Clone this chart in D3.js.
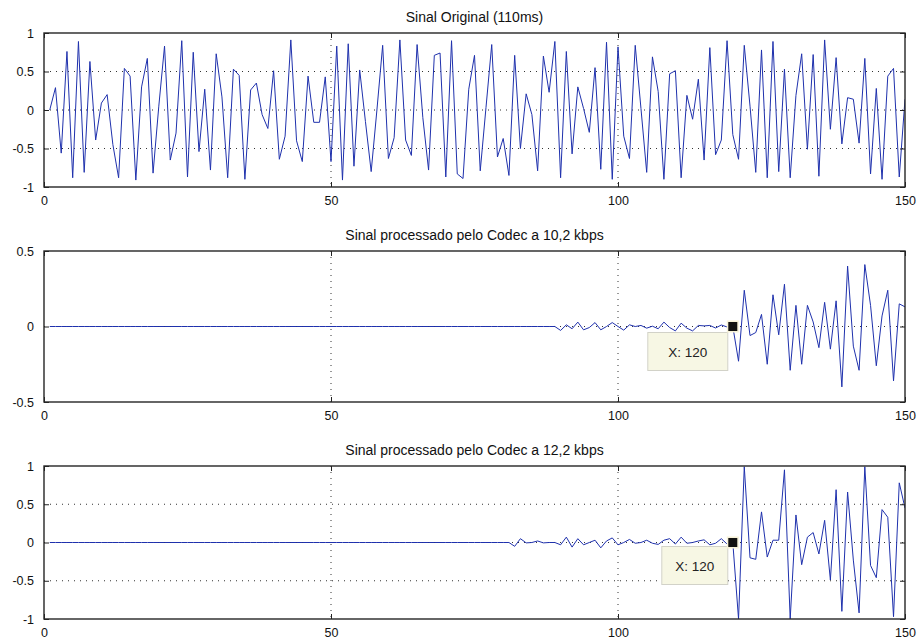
<!DOCTYPE html>
<html>
<head>
<meta charset="utf-8">
<script src="https://cdn.jsdelivr.net/npm/d3@7/dist/d3.min.js"></script>
<style>
  html, body { margin: 0; padding: 0; background: #ffffff; }
  svg { display: block; font-family: "Liberation Sans", Arial, Helvetica, sans-serif; }
</style>
</head>
<body>
<svg id="chart" width="919" height="641"></svg>
<script>
// Sample index (1..150) shared by all three signals
const sampleCount = 150;

// Original speech frame (110 ms)
const originalSignal = [
  0, 0.29, -0.56, 0.76, -0.88, 0.89, -0.81, 0.63, -0.39, 0.09,
  0.20, -0.45, -0.88, 0.54, 0.44, -0.91, 0.30, 0.67, -0.82, 0.05,
  0.83, -0.65, -0.30, 0.90, -0.87, 0.75, -0.54, 0.27, -0.78, 0.73,
  0.17, -0.88, 0.53, 0.45, -0.90, 0.26, 0.35, -0.06, -0.24, 0.51,
  -0.64, -0.34, 0.91, -0.40, -0.67, 0.44, -0.16, -0.16, 0.43, -0.67,
  0.83, -0.91, 0.86, -0.73, 0.52, -0.15, -0.80, 0.00, 0.84, -0.63,
  -0.36, 0.91, -0.39, -0.59, 0.85, -0.10, -0.78, 0.71, 0.74, -0.87,
  0.90, -0.83, -0.89, 0.27, 0.71, -0.79, 0.03, 0.85, -0.61, -0.37,
  -0.85, 0.71, -0.50, 0.21, -0.06, -0.79, 0.70, 0.23, 0.89, -0.88,
  0.76, -0.57, 0.30, 0.02, -0.29, 0.55, -0.77, 0.88, -0.90, 0.82,
  -0.34, -0.63, 0.84, 0.02, -0.81, 0.69, 0.24, -0.90, 0.47, 0.51,
  -0.88, 0.19, -0.12, 0.40, -0.65, 0.81, -0.58, -0.39, 0.90, -0.32,
  -0.64, 0.84, 0.05, -0.81, 0.78, -0.88, 0.89, -0.80, 0.53, -0.88,
  0.19, 0.73, -0.51, 0.72, -0.86, 0.91, -0.25, 0.68, -0.44, 0.16,
  0.14, -0.43, 0.67, -0.83, 0.28, -0.90, 0.44, 0.54, -0.87, 0.14
];

// Output of the codec at 10.2 kbps
const codec102Signal = [
  0, 0, 0, 0, 0, 0, 0, 0, 0, 0,
  0, 0, 0, 0, 0, 0, 0, 0, 0, 0,
  0, 0, 0, 0, 0, 0, 0, 0, 0, 0,
  0, 0, 0, 0, 0, 0, 0, 0, 0, 0,
  0, 0, 0, 0, 0, 0, 0, 0, 0, 0,
  0, 0, 0, 0, 0, 0, 0, 0, 0, 0,
  0, 0, 0, 0, 0, 0, 0, 0, 0, 0,
  0, 0, 0, 0, 0, 0, 0, 0, 0, 0,
  0, 0, 0, 0, 0, 0, 0, 0, 0, -0.026,
  0.011, -0.015, 0.029, -0.022, -0.007, 0.026, -0.022, 0.000, 0.026, 0.000,
  -0.024, 0.011, 0.000, 0.007, -0.011, 0.002, -0.015, 0.029, -0.007, -0.029,
  0.022, -0.011, -0.029, 0.007, 0.004, 0.007, -0.010, 0.010, -0.003, 0.000,
  -0.23, 0.24, -0.06, -0.04, 0.08, -0.25, 0.21, -0.055, 0.28, -0.29,
  0.14, -0.25, 0.14, 0.03, -0.14, 0.16, -0.15, 0.17, -0.40, 0.40,
  -0.13, -0.29, 0.41, 0.14, -0.26, 0.07, 0.24, -0.36, 0.15, 0.13
];

// Output of the codec at 12.2 kbps
const codec122Signal = [
  0, 0, 0, 0, 0, 0, 0, 0, 0, 0,
  0, 0, 0, 0, 0, 0, 0, 0, 0, 0,
  0, 0, 0, 0, 0, 0, 0, 0, 0, 0,
  0, 0, 0, 0, 0, 0, 0, 0, 0, 0,
  0, 0, 0, 0, 0, 0, 0, 0, 0, 0,
  0, 0, 0, 0, 0, 0, 0, 0, 0, 0,
  0, 0, 0, 0, 0, 0, 0, 0, 0, 0,
  0, 0, 0, 0, 0, 0, 0, 0, 0, 0,
  0, -0.05, 0.05, -0.005, 0.00, 0.02, -0.005, 0.00, 0.00, -0.03,
  0.07, -0.06, 0.05, -0.03, 0.00, 0.03, -0.07, 0.02, 0.06, -0.03,
  0.00, 0.04, -0.01, 0.00, 0.03, -0.01, -0.025, 0.03, 0.05, -0.02,
  0.07, -0.01, 0.00, 0.02, 0.035, -0.03, -0.01, 0.05, -0.02, 0.00,
  -1.00, 0.99, -0.20, -0.22, 0.40, -0.19, 0.03, 0.03, 0.95, -1.00,
  0.36, -0.29, 0.07, 0.13, -0.15, 0.29, -0.49, 0.69, -0.90, 0.66,
  -0.23, -0.92, 0.99, -0.30, -0.46, 0.43, 0.33, -0.97, 0.78, 0.45
];

// Axis tick values
const xTicks = [0, 50, 100, 150];
const yTicksFull = [-1, -0.5, 0, 0.5, 1];
const yTicksHalf = [-0.5, 0, 0.5];
const yTickLabelsFull = ["-1", "-0.5", "0", "0.5", "1"];
const yTickLabelsHalf = ["-0.5", "0", "0.5"];

// Panel titles
const titles = [
  "Sinal Original (110ms)",
  "Sinal processado pelo Codec a 10,2 kbps",
  "Sinal processado pelo Codec a 12,2 kbps"
];

// Data cursor pinned on sample 120 of the codec outputs
const cursorIndex = 120;
const cursorLabel = "X: 120";

const svg = d3.select("#chart");
const left = 44, right = 905;

const panels = [
  { title: titles[0], data: originalSignal, top: 33, bottom: 187, domain: [-1, 1], yTicks: yTicksFull, yLabels: yTickLabelsFull, cursor: null },
  { title: titles[1], data: codec102Signal, top: 251, bottom: 402, domain: [-0.5, 0.5], yTicks: yTicksHalf, yLabels: yTickLabelsHalf, cursor: { w: 80, h: 38, dx: -85, dy: 6 } },
  { title: titles[2], data: codec122Signal, top: 466, bottom: 619, domain: [-1, 1], yTicks: yTicksFull, yLabels: yTickLabelsFull, cursor: { w: 66, h: 38, dx: -71, dy: 4 } }
];

const lineColor = "#1f31ad";

panels.forEach((p, pi) => {
  const x = d3.scaleLinear().domain([0, sampleCount]).range([left, right]);
  const y = d3.scaleLinear().domain(p.domain).range([p.bottom, p.top]);
  const g = svg.append("g");
  const clipId = "clip" + pi;

  g.append("clipPath").attr("id", clipId)
    .append("rect")
    .attr("x", left).attr("y", p.top)
    .attr("width", right - left).attr("height", p.bottom - p.top);

  // Dotted grid
  const grid = g.append("g").attr("stroke", "#333").attr("stroke-width", 1).attr("stroke-dasharray", "1,5");
  xTicks.filter(t => t > 0 && t < sampleCount).forEach(t => {
    grid.append("line").attr("x1", x(t)).attr("x2", x(t)).attr("y1", p.top).attr("y2", p.bottom);
  });
  p.yTicks.filter(t => t > p.domain[0] && t < p.domain[1]).forEach(t => {
    grid.append("line").attr("x1", left).attr("x2", right).attr("y1", y(t)).attr("y2", y(t));
  });

  // Signal trace
  const line = d3.line().x((d, i) => x(i + 1)).y(d => y(d));
  g.append("path")
    .datum(p.data)
    .attr("clip-path", `url(#${clipId})`)
    .attr("fill", "none")
    .attr("stroke", lineColor)
    .attr("stroke-width", 1)
    .attr("stroke-linejoin", "miter")
    .attr("d", line);

  // Axes with inward ticks on all four sides
  const tickLen = 5;
  const axBottom = d3.axisBottom(x).tickValues(xTicks).tickSizeInner(-tickLen).tickSizeOuter(0).tickPadding(9);
  const axTop = d3.axisTop(x).tickValues(xTicks).tickSizeInner(-tickLen).tickSizeOuter(0).tickFormat("");
  const axLeft = d3.axisLeft(y).tickValues(p.yTicks).tickSizeInner(-tickLen).tickSizeOuter(0).tickPadding(10)
    .tickFormat((d, i) => p.yLabels[i]);
  const axRight = d3.axisRight(y).tickValues(p.yTicks).tickSizeInner(-tickLen).tickSizeOuter(0).tickFormat("");

  const styleAxis = sel => {
    sel.select(".domain").remove();
    sel.selectAll(".tick line").attr("stroke", "#222").attr("stroke-width", 1);
    sel.selectAll(".tick text").attr("fill", "#111").attr("font-size", 12.5)
      .attr("font-family", '"Liberation Sans", Arial, sans-serif');
  };

  g.append("g").attr("transform", `translate(0,${p.bottom})`).call(axBottom).call(styleAxis);
  g.append("g").attr("transform", `translate(0,${p.top})`).call(axTop).call(styleAxis);
  g.append("g").attr("transform", `translate(${left},0)`).call(axLeft).call(styleAxis);
  g.append("g").attr("transform", `translate(${right},0)`).call(axRight).call(styleAxis);

  // Box
  g.append("rect")
    .attr("x", left).attr("y", p.top)
    .attr("width", right - left).attr("height", p.bottom - p.top)
    .attr("fill", "none").attr("stroke", "#262626").attr("stroke-width", 1.4);

  // Title
  g.append("text")
    .attr("x", (left + right) / 2)
    .attr("y", p.top - 11)
    .attr("text-anchor", "middle")
    .attr("font-size", 14)
    .attr("fill", "#111")
    .text(p.title);

  // Data cursor
  if (p.cursor) {
    const cx = x(cursorIndex), cy = y(p.data[cursorIndex - 1]);
    const c = p.cursor;
    g.append("rect")
      .attr("x", cx + c.dx).attr("y", cy + c.dy)
      .attr("width", c.w).attr("height", c.h)
      .attr("fill", "#f7f7e4").attr("stroke", "#d2d2c8").attr("stroke-width", 1);
    g.append("text")
      .attr("x", cx + c.dx + c.w / 2)
      .attr("y", cy + c.dy + c.h / 2 + 5)
      .attr("text-anchor", "middle")
      .attr("font-size", 13.5)
      .attr("fill", "#222")
      .text(cursorLabel);
    g.append("rect")
      .attr("x", cx - 6).attr("y", cy - 6)
      .attr("width", 12).attr("height", 12)
      .attr("fill", "#f7f2d8");
    g.append("rect")
      .attr("x", cx - 4.5).attr("y", cy - 4.5)
      .attr("width", 9).attr("height", 9)
      .attr("fill", "#111");
  }
});
</script>
</body>
</html>
